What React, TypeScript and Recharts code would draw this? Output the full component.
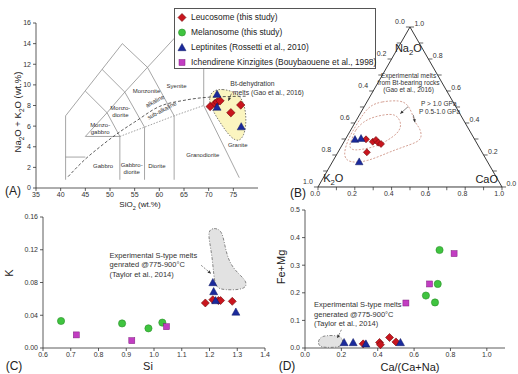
import React from 'react';
import { ScatterChart, Scatter, XAxis, YAxis } from 'recharts';

const FONT = '"Liberation Sans", Arial, Helvetica, sans-serif';
const SQ = Math.sqrt(3) / 2;

const RED = '#c9151e';
const GREEN = '#3fc43f';
const BLUE = '#1b2a9c';
const MAG = '#c23dc2';

// ---------- (A) TAS diagram ----------
const tasXTicks = [35, 40, 45, 50, 55, 60, 65, 70, 75];
const tasYTicks = [0, 2, 4, 6, 8, 10, 12, 14, 16];
const leucoSiO2 = [70.3, 71.3, 71.75, 72.3, 74.5, 76.5];
const leucoAlk = [7.9, 8.2, 8.35, 8.45, 7.3, 8.05];
const leptSiO2 = [71.7, 71.7, 76.6];
const leptAlk = [9.1, 7.85, 5.95];
// field boundaries: x1, y1, x2, y2
const tasEdges = [
  [41, 0.8, 41, 7],
  [41, 3, 45, 3],
  [41, 7, 52.5, 14],
  [52.5, 14, 57.6, 11.7],
  [57.6, 11.7, 65.9, 16],
  [69, 8, 69, 16],
  [69, 8, 76.2, 1],
  [45, 5, 52, 5],
  [45, 5, 49.4, 7.3],
  [49.4, 7.3, 52, 5],
  [49.4, 7.3, 53, 9.3],
  [53, 9.3, 57, 5.9],
  [45, 9.4, 49.4, 7.3],
  [48.4, 11.5, 53, 9.3],
  [53, 9.3, 57.6, 11.7],
  [57.6, 11.7, 63, 7],
  [52, 0.8, 52, 5],
  [57, 0.8, 57, 5.9],
  [63, 0.8, 63, 7],
];
const subAlkSiO2 = [52, 57, 63, 69];
const subAlkAlk = [5, 5.9, 7, 8];
const alkCurveSiO2 = [41.5, 45, 48, 50, 53.7, 55, 60, 65, 70, 77.5];
const alkCurveAlk = [1.1, 2.8, 4.0, 4.75, 6.0, 6.4, 7.9, 8.5, 8.8, 8.9];
const btMeltSiO2 = [70.9, 72.9, 74.9, 76.65, 77.5, 77.6, 77.2, 76.15, 74.5, 72.5, 70.7, 69.9];
const btMeltAlk = [9.5, 9.6, 9.36, 8.83, 7.57, 6.2, 5.14, 4.46, 4.85, 6.2, 7.57, 8.73];
const tasNames = ['Syenite', 'Monzonite', 'Monzo-', 'diorite', 'Monzo-', 'gabbro', 'Gabbro', 'Gabbro-', 'diorite', 'Diorite', 'Granodiorite', 'Granite'];
const tasNameX = [63.5, 57.4, 52.1, 52.1, 48.0, 48.0, 48.6, 54.4, 54.4, 59.5, 68.8, 75.9];
const tasNameY = [9.7, 9.2, 7.55, 6.85, 5.9, 5.2, 1.9, 2.0, 1.35, 1.9, 3.0, 4.0];
const seriesNames = ['alkaline', 'sub-alkaline'];
const seriesX = [59.3, 60.7];
const seriesY = [8.25, 7.35];
const btNotes = ['Bt-dehydration', 'melts (Gao et al., 2016)'];
const btNoteX = [74.4, 74.9];
const btNoteY = [9.85, 9.0];

// ---------- (B) K2O - Na2O - CaO ternary ----------
const ternTicks = [0, 0.2, 0.4, 0.6, 0.8, 1.0];
const ternMinor = [0.1, 0.3, 0.5, 0.7, 0.9];
const leucoNa2O = [0.298, 0.283, 0.294, 0.277, 0.269, 0.217];
const leucoCaO = [0.112, 0.156, 0.168, 0.189, 0.208, 0.157];
const leucoK2O = [0.59, 0.561, 0.538, 0.534, 0.523, 0.626];
const leptNa2O = [0.298, 0.304, 0.158];
const leptCaO = [0.052, 0.082, 0.145];
const leptK2O = [0.65, 0.614, 0.697];
const meltLowNa2O = [0.51, 0.534, 0.544, 0.5125, 0.4625, 0.4, 0.369, 0.3125, 0.281, 0.25, 0.2125, 0.159, 0.15, 0.189, 0.294, 0.377, 0.456];
const meltLowCaO = [0.03, 0.075, 0.179, 0.233, 0.28, 0.327, 0.37, 0.409, 0.403, 0.337, 0.269, 0.187, 0.099, 0.04, 0.014, 0.014, 0.017];
const meltHighNa2O = [0.294, 0.356, 0.408, 0.439, 0.461, 0.439, 0.3875, 0.336, 0.2875, 0.25, 0.231, 0.231, 0.256];
const meltHighCaO = [0.036, 0.023, 0.042, 0.081, 0.17, 0.217, 0.261, 0.268, 0.229, 0.185, 0.106, 0.069, 0.04];
const gaoNotes = ['Experimental melts', 'from Bt-bearing rocks', '(Gao et al., 2016)'];
const gaoNoteY = [0.59, 0.552, 0.514];
const pNotes = ['P > 1.0 GPa', 'P 0.5-1.0 GPa'];
const pNoteX = [0.56, 0.549];
const pNoteY = [0.438, 0.395];

// ---------- (C) K vs Si ----------
const cXTicks = [0.6, 0.7, 0.8, 0.9, 1.0, 1.1, 1.2, 1.3, 1.4];
const cYTicks = [0, 0.04, 0.08, 0.12, 0.16];
const melaSi = [0.665, 0.885, 0.98, 1.03];
const melaK = [0.033, 0.03, 0.024, 0.031];
const ichSi = [0.72, 0.92, 1.045];
const ichK = [0.016, 0.009, 0.026];
const leucoSi = [1.185, 1.212, 1.232, 1.24, 1.282];
const leucoK = [0.055, 0.059, 0.058, 0.058, 0.057];
const leptSi = [1.212, 1.215, 1.222, 1.295];
const leptK = [0.08, 0.069, 0.058, 0.044];
const taylorSi = [1.195, 1.215, 1.245, 1.255, 1.27, 1.3, 1.33, 1.335, 1.31, 1.255, 1.222, 1.215, 1.21, 1.2];
const taylorK = [0.143, 0.147, 0.144, 0.125, 0.105, 0.092, 0.083, 0.075, 0.071, 0.071, 0.073, 0.09, 0.11, 0.13];
const cNotes = ['Experimental S-type melts', 'genrated @775-900°C', '(Taylor et al., 2014)'];
const cNoteY = [0.11, 0.0985, 0.087];

// ---------- (D) Fe+Mg vs Ca/(Ca+Na) ----------
const dXTicks = [0, 0.2, 0.4, 0.6, 0.8, 1.0];
const dYTicks = [0, 0.1, 0.2, 0.3, 0.4, 0.5];
const melaCa = [0.74, 0.73, 0.665, 0.715];
const melaFeMg = [0.355, 0.232, 0.19, 0.165];
const ichCa = [0.82, 0.685, 0.555];
const ichFeMg = [0.342, 0.232, 0.163];
const leucoCa = [0.32, 0.41, 0.415, 0.465, 0.5];
const leucoFeMg = [0.015, 0.02, 0.012, 0.038, 0.022];
const leptCa = [0.215, 0.265, 0.335, 0.525];
const leptFeMg = [0.02, 0.02, 0.015, 0.02];
const taylorCa = [0.08, 0.07, 0.085, 0.12, 0.19, 0.21, 0.205, 0.17, 0.11];
const taylorFeMg = [0.005, 0.022, 0.04, 0.046, 0.045, 0.03, 0.008, 0.002, 0.002];
const dNotes = ['Experimental S-type melts', 'generated @775-900°C', '(Taylor et al., 2014)'];
const dNoteY = [0.147, 0.114, 0.081];

const legendLabels = [
  'Leucosome (this study)',
  'Melanosome (this study)',
  'Leptinites (Rossetti et al., 2010)',
  'Ichendirene Kinzigites (Bouybaouene et al., 1998)',
];

// ---------- helpers ----------
const zip = (xs: number[], ys: number[]) => xs.map((x, i) => ({ x, y: ys[i] }));
const texts = (ts: string[], xs: number[], ys: number[]) => ts.map((t, i) => ({ x: xs[i], y: ys[i], t }));
const tern = (na: number, ca: number, k: number) => {
  const s = na + ca + k;
  return { x: (ca + na / 2) / s, y: (na * SQ) / s };
};
const ternSet = (na: number[], ca: number[], k?: number[]) =>
  na.map((n, i) => tern(n, ca[i], k ? k[i] : 1 - n - ca[i]));

const hidden = () => <g />;
const diamond = (s: number) => (p: any) => (
  <polygon points={`${p.cx},${p.cy - s} ${p.cx + s},${p.cy} ${p.cx},${p.cy + s} ${p.cx - s},${p.cy}`} fill={RED} stroke="#6e0a0a" strokeWidth={0.6} />
);
const circle = (r: number) => (p: any) => <circle cx={p.cx} cy={p.cy} r={r} fill={GREEN} stroke="#2a8f2a" strokeWidth={0.6} />;
const triangle = (s: number) => (p: any) => (
  <polygon points={`${p.cx},${p.cy - s} ${p.cx + s},${p.cy + s * 0.8} ${p.cx - s},${p.cy + s * 0.8}`} fill={BLUE} stroke="#0d1660" strokeWidth={0.5} />
);
const square = (s: number) => (p: any) => (
  <rect x={p.cx - s} y={p.cy - s} width={2 * s} height={2 * s} fill={MAG} stroke="#7d1f7d" strokeWidth={0.5} />
);

const chem = (t: string, size: number) => {
  const parts = t.split(/(_\d)/).filter(Boolean);
  let sub = false;
  return parts.map((part, i) => {
    if (part.startsWith('_')) {
      sub = true;
      return <tspan key={i} fontSize={size * 0.7} dy={size * 0.25}>{part.slice(1)}</tspan>;
    }
    const dy = sub ? -size * 0.25 : 0;
    sub = false;
    return <tspan key={i} dy={dy}>{part}</tspan>;
  });
};
const label = (size: number, anchor = 'middle', rotate = 0, color = '#333') => (p: any) => (
  <text
    x={p.cx}
    y={p.cy}
    dy={size * 0.35}
    fontSize={size}
    fontFamily={FONT}
    textAnchor={anchor}
    fill={color}
    transform={rotate ? `rotate(${rotate},${p.cx},${p.cy})` : undefined}
  >
    {chem(p.payload.t, size)}
  </text>
);

const segments = (stroke: string, width: number, dash?: string) => (p: any) => {
  const d = (p.points || []).map((q: any, i: number) => `${i % 2 ? 'L' : 'M'}${q.x},${q.y}`).join('');
  return <path d={d} fill="none" stroke={stroke} strokeWidth={width} strokeDasharray={dash} />;
};
const arrow = (stroke: string, dash?: string) => (p: any) => {
  const [a, b] = p.points;
  const ang = Math.atan2(b.y - a.y, b.x - a.x);
  const h = 3.5;
  const l = { x: b.x - h * Math.cos(ang - 0.45), y: b.y - h * Math.sin(ang - 0.45) };
  const r = { x: b.x - h * Math.cos(ang + 0.45), y: b.y - h * Math.sin(ang + 0.45) };
  return (
    <g>
      <path d={`M${a.x},${a.y}L${b.x},${b.y}`} stroke={stroke} strokeWidth={0.6} strokeDasharray={dash} fill="none" />
      <path d={`M${l.x},${l.y}L${b.x},${b.y}L${r.x},${r.y}Z`} fill={stroke} />
    </g>
  );
};

const axisLine = { stroke: '#333', strokeWidth: 0.8 };
const tickStyle = { fontSize: 7, fill: '#333', fontFamily: FONT };

const Overlay = ({ x, y, size, rotate, children }: any) => (
  <div
    style={{
      position: 'absolute',
      left: x,
      top: y,
      transform: `translate(-50%, -50%)${rotate ? ` rotate(${rotate}deg)` : ''}`,
      fontSize: size,
      fontFamily: FONT,
      color: '#222',
      whiteSpace: 'nowrap',
      lineHeight: 1,
    }}
  >
    {children}
  </div>
);

const LegendMarker = ({ i }: { i: number }) => {
  const p = { cx: 6, cy: 6.5 };
  const m = [diamond(4), circle(3.5), triangle(4), square(3)][i];
  return <svg width={12} height={13} style={{ display: 'block' }}>{m(p)}</svg>;
};

// ternary frame and ticks
const triangleFrame = [tern(0, 0, 1), tern(1, 0, 0), tern(0, 1, 0), tern(0, 0, 1)];
const TK = 0.022;
const ternTickSegs = [...ternTicks, ...ternMinor].flatMap((t) => {
  const b = tern(0, t, 1 - t);
  const l = tern(1 - t, 0, t);
  const r = tern(t, 1 - t, 0);
  return [b, { x: b.x, y: b.y - TK * 0.8 }, l, { x: l.x - TK, y: l.y }, r, { x: r.x + TK, y: r.y }];
});
const ternLabels = ternTicks.flatMap((t) => {
  const b = tern(0, t, 1 - t);
  const l = tern(1 - t, 0, t);
  const r = tern(t, 1 - t, 0);
  const s = t.toFixed(1);
  return [
    { kind: 'b', x: b.x - 0.015, y: b.y - 0.05, t: s },
    { kind: 'l', x: l.x - 0.028, y: l.y + 0.016, t: s },
    { kind: 'r', x: r.x + 0.024, y: r.y + 0.004, t: s },
  ];
});

export default function App() {
  return (
    <div style={{ position: 'relative', width: 518, height: 374, background: '#fff', overflow: 'hidden', fontFamily: FONT }}>
      <style>{'body{margin:0}'}</style>

      {/* (A) */}
      <div style={{ position: 'absolute', left: 0, top: 0 }}>
        <ScatterChart width={330} height={215} margin={{ top: 23, right: 72, bottom: 0, left: 0 }}>
          <XAxis type="number" dataKey="x" domain={[35, 80]} ticks={tasXTicks} interval={0} height={27} tickSize={3} tickMargin={1} axisLine={axisLine} tickLine={axisLine} tick={tickStyle} />
          <YAxis type="number" dataKey="y" domain={[0, 16]} ticks={tasYTicks} interval={0} width={36} tickSize={3} tickMargin={2} axisLine={axisLine} tickLine={axisLine} tick={tickStyle} />
          <Scatter data={zip(btMeltSiO2, btMeltAlk)} shape={hidden} lineJointType="basisClosed" line={{ fill: '#fbf5c0', stroke: '#444', strokeWidth: 0.7, strokeDasharray: '1.5 1.5' }} isAnimationActive={false} />
          <Scatter data={tasEdges.flatMap(([x1, y1, x2, y2]) => [{ x: x1, y: y1 }, { x: x2, y: y2 }])} shape={hidden} line={segments('#808080', 0.7)} isAnimationActive={false} />
          <Scatter data={zip(subAlkSiO2, subAlkAlk)} shape={hidden} line={{ stroke: '#777', strokeWidth: 0.7, strokeDasharray: '1.5 1.5' }} isAnimationActive={false} />
          <Scatter data={zip(alkCurveSiO2, alkCurveAlk)} shape={hidden} lineJointType="monotone" line={{ stroke: '#333', strokeWidth: 0.8, strokeDasharray: '3 2' }} isAnimationActive={false} />
          <Scatter data={[{ x: 74.6, y: 9.15 }, { x: 74.0, y: 8.45 }]} shape={hidden} line={arrow('#333')} isAnimationActive={false} />
          <Scatter data={zip(leucoSiO2, leucoAlk)} shape={diamond(4.2)} isAnimationActive={false} />
          <Scatter data={zip(leptSiO2, leptAlk)} shape={triangle(4)} isAnimationActive={false} />
          <Scatter data={texts(tasNames, tasNameX, tasNameY)} shape={label(6)} isAnimationActive={false} />
          <Scatter data={texts(seriesNames, seriesX, seriesY)} shape={label(6, 'middle', -28)} isAnimationActive={false} />
          <Scatter data={texts(btNotes, btNoteX, btNoteY)} shape={label(6.8, 'start')} isAnimationActive={false} />
        </ScatterChart>
      </div>

      {/* (B) */}
      <div style={{ position: 'absolute', left: 260, top: 0 }}>
        <ScatterChart width={258} height={215} margin={{ top: 0, right: 0, bottom: 0, left: 0 }}>
          <XAxis type="number" dataKey="x" hide domain={[-0.3152, 1.087]} />
          <YAxis type="number" dataKey="y" hide domain={[-0.1516, 1.0122]} />
          <Scatter data={triangleFrame} shape={hidden} line={{ stroke: '#222', strokeWidth: 0.9 }} isAnimationActive={false} />
          <Scatter data={ternTickSegs} shape={hidden} line={segments('#222', 0.7)} isAnimationActive={false} />
          <Scatter data={ternSet(meltLowNa2O, meltLowCaO)} shape={hidden} lineJointType="basisClosed" line={{ stroke: '#c9897a', strokeWidth: 0.8, strokeDasharray: '2 1.5' }} isAnimationActive={false} />
          <Scatter data={ternSet(meltHighNa2O, meltHighCaO)} shape={hidden} lineJointType="basisClosed" line={{ stroke: '#c9897a', strokeWidth: 0.8, strokeDasharray: '2 1.5' }} isAnimationActive={false} />
          <Scatter data={[{ x: 0.49, y: 0.435 }, { x: 0.447, y: 0.397 }]} shape={hidden} line={arrow('#333')} isAnimationActive={false} />
          <Scatter data={[{ x: 0.518, y: 0.39 }, { x: 0.527, y: 0.35 }]} shape={hidden} line={arrow('#333')} isAnimationActive={false} />
          <Scatter data={ternSet(leucoNa2O, leucoCaO, leucoK2O)} shape={diamond(3.5)} isAnimationActive={false} />
          <Scatter data={ternSet(leptNa2O, leptCaO, leptK2O)} shape={triangle(3.8)} isAnimationActive={false} />
          <Scatter data={ternLabels.filter((d) => d.kind === 'b')} shape={label(7)} isAnimationActive={false} />
          <Scatter data={ternLabels.filter((d) => d.kind === 'l')} shape={label(7, 'end')} isAnimationActive={false} />
          <Scatter data={ternLabels.filter((d) => d.kind === 'r')} shape={label(7, 'start')} isAnimationActive={false} />
          <Scatter data={[{ x: 0.491, y: 0.732, t: 'Na_2O' }, { x: 0.083, y: 0.028, t: 'K_2O' }, { x: 0.917, y: 0.024, t: 'CaO' }]} shape={label(11, 'middle', 0, '#222')} isAnimationActive={false} />
          <Scatter data={texts(gaoNotes, [0.492, 0.492, 0.492], gaoNoteY)} shape={label(6.5)} isAnimationActive={false} />
          <Scatter data={texts(pNotes, pNoteX, pNoteY)} shape={label(6.5, 'start')} isAnimationActive={false} />
        </ScatterChart>
      </div>

      {/* (C) */}
      <div style={{ position: 'absolute', left: 0, top: 205 }}>
        <ScatterChart width={275} height={160} margin={{ top: 12, right: 10, bottom: 0, left: 0 }}>
          <XAxis type="number" dataKey="x" domain={[0.6, 1.4]} ticks={cXTicks} interval={0} height={17} tickSize={3} tickMargin={1} axisLine={axisLine} tickLine={axisLine} tick={tickStyle} tickFormatter={(v: number) => v.toFixed(1)} />
          <YAxis type="number" dataKey="y" domain={[0, 0.16]} ticks={cYTicks} interval={0} width={43} tickSize={3} tickMargin={2} axisLine={axisLine} tickLine={axisLine} tick={tickStyle} tickFormatter={(v: number) => v.toFixed(2)} />
          <Scatter data={zip(taylorSi, taylorK)} shape={hidden} lineJointType="basisClosed" line={{ fill: '#e2e2e2', stroke: '#555', strokeWidth: 0.7, strokeDasharray: '3 1.5 1 1.5' }} isAnimationActive={false} />
          <Scatter data={[{ x: 1.17, y: 0.101 }, { x: 1.205, y: 0.091 }]} shape={hidden} line={arrow('#333', '2 1.5')} isAnimationActive={false} />
          <Scatter data={zip(melaSi, melaK)} shape={circle(3.6)} isAnimationActive={false} />
          <Scatter data={zip(ichSi, ichK)} shape={square(3)} isAnimationActive={false} />
          <Scatter data={zip(leucoSi, leucoK)} shape={diamond(4)} isAnimationActive={false} />
          <Scatter data={zip(leptSi, leptK)} shape={triangle(4)} isAnimationActive={false} />
          <Scatter data={texts(cNotes, [0.84, 0.84, 0.84], cNoteY)} shape={label(7.5, 'start')} isAnimationActive={false} />
        </ScatterChart>
      </div>

      {/* (D) */}
      <div style={{ position: 'absolute', left: 262, top: 200 }}>
        <ScatterChart width={256} height={165} margin={{ top: 10, right: 13, bottom: 0, left: 0 }}>
          <XAxis type="number" dataKey="x" domain={[0, 1.1]} ticks={dXTicks} interval={0} height={17} tickSize={3} tickMargin={1} axisLine={axisLine} tickLine={axisLine} tick={tickStyle} tickFormatter={(v: number) => v.toFixed(1)} />
          <YAxis type="number" dataKey="y" domain={[0, 0.5]} ticks={dYTicks} interval={0} width={43} tickSize={3} tickMargin={2} axisLine={axisLine} tickLine={axisLine} tick={tickStyle} tickFormatter={(v: number) => v.toFixed(1)} />
          <Scatter data={zip(taylorCa, taylorFeMg)} shape={hidden} lineJointType="basisClosed" line={{ fill: '#e2e2e2', stroke: '#555', strokeWidth: 0.7, strokeDasharray: '3 1.5 1 1.5' }} isAnimationActive={false} />
          <Scatter data={[{ x: 0.2, y: 0.066 }, { x: 0.178, y: 0.036 }]} shape={hidden} line={arrow('#333', '2 1.5')} isAnimationActive={false} />
          <Scatter data={zip(melaCa, melaFeMg)} shape={circle(3.6)} isAnimationActive={false} />
          <Scatter data={zip(ichCa, ichFeMg)} shape={square(3)} isAnimationActive={false} />
          <Scatter data={zip(leucoCa, leucoFeMg)} shape={diamond(4)} isAnimationActive={false} />
          <Scatter data={zip(leptCa, leptFeMg)} shape={triangle(4)} isAnimationActive={false} />
          <Scatter data={texts(dNotes, [0.05, 0.05, 0.05], dNoteY)} shape={label(7.5, 'start')} isAnimationActive={false} />
        </ScatterChart>
      </div>

      {/* titles and panel letters */}
      <Overlay x={13} y={191} size={12}>(A)</Overlay>
      <Overlay x={19} y={112} size={9.5} rotate={-90}>
        Na<sub style={{ fontSize: 6.5 }}>2</sub>O + K<sub style={{ fontSize: 6.5 }}>2</sub>O (wt.%)
      </Overlay>
      <Overlay x={140} y={206} size={8}>
        SiO<sub style={{ fontSize: 5.5 }}>2</sub> (wt.%)
      </Overlay>
      <Overlay x={298} y={193} size={12}>(B)</Overlay>
      <Overlay x={14} y={366} size={12}>(C)</Overlay>
      <Overlay x={148} y={366} size={11}>Si</Overlay>
      <Overlay x={9} y={273} size={11} rotate={-90}>K</Overlay>
      <Overlay x={287} y={366} size={12}>(D)</Overlay>
      <Overlay x={410} y={367} size={11}>Ca/(Ca+Na)</Overlay>
      <Overlay x={281} y={267} size={11} rotate={-90}>Fe+Mg</Overlay>

      {/* legend */}
      <div style={{ position: 'absolute', left: 174, top: 8, width: 200, height: 59, border: '1px solid #555', background: '#fff' }}>
        {legendLabels.map((t, i) => (
          <div key={t} style={{ position: 'absolute', left: 1, top: 1.5 + i * 15, height: 13, display: 'flex', alignItems: 'center' }}>
            <LegendMarker i={i} />
            <span style={{ fontSize: 8.4, marginLeft: 3, color: '#222', whiteSpace: 'nowrap' }}>{t}</span>
          </div>
        ))}
      </div>
    </div>
  );
}
